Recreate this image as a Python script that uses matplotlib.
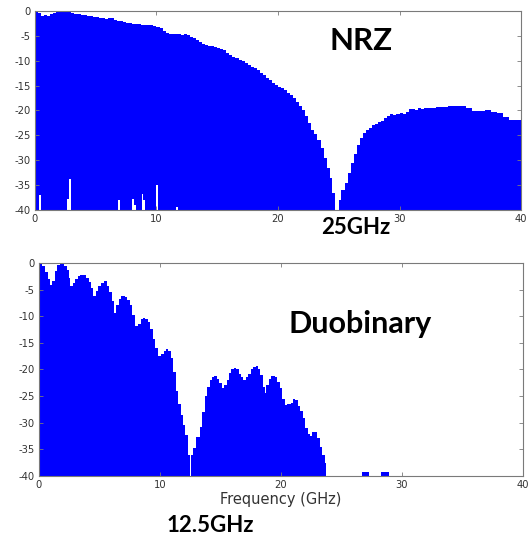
import matplotlib
matplotlib.use("Agg")
import matplotlib.pyplot as plt
import numpy as np

plt.rcParams['axes.unicode_minus'] = False

# ---------------- data ----------------
nrz_f = [0.0, 0.25, 0.5, 0.75, 1.0, 1.25, 1.5, 1.75, 2.0, 2.25, 2.5, 2.75, 3.0, 3.25, 3.5, 3.75,
         4.0, 4.25, 4.5, 4.75, 5.0, 5.25, 5.5, 5.75, 6.0, 6.25, 6.5, 6.75, 7.0, 7.25, 7.5, 7.75,
         8.0, 8.25, 8.5, 8.75, 9.0, 9.25, 9.5, 9.75, 10.0, 10.25, 10.5, 10.75, 11.0, 11.25, 11.5, 11.75,
         12.0, 12.25, 12.5, 12.75, 13.0, 13.25, 13.5, 13.75, 14.0, 14.25, 14.5, 14.75, 15.0, 15.25, 15.5, 15.75,
         16.0, 16.25, 16.5, 16.75, 17.0, 17.25, 17.5, 17.75, 18.0, 18.25, 18.5, 18.75, 19.0, 19.25, 19.5, 19.75,
         20.0, 20.25, 20.5, 20.75, 21.0, 21.25, 21.5, 21.75, 22.0, 22.25, 22.5, 22.75, 23.0, 23.25, 23.5, 23.75,
         24.0, 24.25, 24.45, 24.65, 25.0, 25.2, 25.5, 25.75, 26.0, 26.25, 26.5, 26.75, 27.0, 27.25, 27.5, 27.75,
         28.0, 28.25, 28.5, 28.75, 29.0, 29.25, 29.5, 29.75, 30.0, 30.25, 30.5, 30.75, 31.0, 31.25, 31.5, 31.75,
         32.0, 32.5, 33.0, 33.5, 34.0, 34.5, 35.0, 35.5, 36.0, 36.5, 37.0, 37.5, 38.0, 38.5, 39.0, 39.5, 40.0]
nrz_db = [-0.1, -0.5, -1.1, -0.8, -1.0, -0.6, -0.4, -0.2, 0.0, -0.1, 0.0, -0.1, -0.5, -0.7, -0.6, -0.8,
          -0.9, -1.0, -1.1, -1.3, -1.3, -1.5, -1.4, -1.6, -1.5, -1.4, -1.8, -2.0, -2.1, -2.3, -2.5, -2.4,
          -2.6, -2.7, -2.6, -2.8, -2.8, -2.9, -2.8, -3.0, -3.2, -3.5, -4.0, -4.4, -4.6, -4.7, -4.6, -4.7,
          -4.8, -4.6, -4.9, -5.2, -5.5, -5.9, -6.2, -6.6, -6.8, -7.0, -7.1, -7.3, -7.4, -7.6, -7.9, -8.4,
          -8.8, -9.2, -9.5, -9.9, -10.1, -10.5, -10.9, -11.3, -11.5, -11.8, -12.4, -12.9, -13.4, -13.8, -14.5, -14.9,
          -15.2, -15.4, -15.9, -16.4, -16.9, -17.5, -18.3, -19.0, -20.0, -21.2, -22.5, -24.0, -24.8, -26.0, -27.5, -29.5,
          -31.5, -33.5, -36.5, -40.0, -38.0, -36.0, -34.5, -32.5, -30.6, -28.8, -27.0, -25.6, -24.6, -24.0, -23.6, -23.0,
          -22.8, -22.4, -22.2, -21.6, -21.1, -20.8, -20.9, -20.7, -20.6, -20.7, -20.3, -19.8, -19.7, -20.0, -19.6, -19.7,
          -19.6, -19.5, -19.4, -19.3, -19.2, -19.1, -19.2, -19.6, -20.1, -20.2, -20.0, -20.4, -20.6, -21.3, -22.0, -21.9, -22.6]

# small white notches at the bottom of the NRZ spectrum
nrz_gap_f = [0.4, 2.75, 2.9, 6.9, 8.05, 8.25, 8.85, 9.0, 10.05, 11.7]
nrz_gap_top = [-36.9, -37.7, -33.7, -38.0, -37.7, -39.0, -36.7, -38.0, -35.0, -39.4]

duo_f = [0.0, 0.25, 0.5, 0.75, 0.9, 1.1, 1.3, 1.5, 1.7, 1.9, 2.1, 2.3, 2.45, 2.6, 2.8, 3.0,
         3.2, 3.4, 3.7, 3.9, 4.1, 4.3, 4.5, 4.7, 4.9, 5.1, 5.4, 5.6, 5.8, 6.0, 6.2, 6.4,
         6.6, 6.8, 7.1, 7.3, 7.5, 7.7, 7.95, 8.2, 8.4, 8.6, 8.8, 9.0, 9.2, 9.4, 9.6, 9.85,
         10.1, 10.3, 10.5, 10.7, 10.9, 11.1, 11.3, 11.5, 11.75, 11.9, 12.1, 12.3, 12.45, 12.55, 12.7, 13.0,
         13.3, 13.5, 13.7, 13.9, 14.1, 14.3, 14.5, 14.7, 14.9, 15.1, 15.3, 15.5, 15.7, 15.9, 16.1, 16.3,
         16.5, 16.7, 16.9, 17.1, 17.3, 17.5, 17.7, 17.9, 18.1, 18.3, 18.5, 18.65, 18.8, 19.0, 19.2, 19.5,
         19.7, 19.9, 20.1, 20.3, 20.5, 20.8, 21.0, 21.2, 21.4, 21.6, 21.8, 22.0, 22.2, 22.4, 22.6, 22.8,
         23.0, 23.2, 23.4, 23.6, 23.7, 26.7, 27.3, 28.3, 28.9, 40.0]
duo_db = [0.0, -0.5, -1.6, -3.0, -4.1, -3.4, -1.5, -0.4, -0.1, -0.2, -0.5, -1.3, -2.8, -4.4, -3.8, -3.0,
          -2.4, -2.2, -2.2, -2.8, -3.6, -4.7, -6.2, -5.3, -4.4, -3.8, -3.4, -4.3, -5.5, -7.2, -9.3, -7.8,
          -6.8, -6.2, -6.3, -7.0, -7.9, -9.7, -11.9, -11.5, -10.6, -10.3, -10.6, -11.1, -12.4, -14.2, -15.9, -17.5,
          -17.0, -16.6, -16.2, -16.6, -17.8, -20.4, -24.0, -26.5, -28.5, -30.5, -32.3, -36.0, -40.0, -36.0, -34.8, -32.6,
          -30.8, -27.9, -25.0, -23.2, -22.0, -21.5, -21.2, -21.7, -22.6, -23.4, -23.0, -22.0, -20.6, -20.0, -19.7, -20.0,
          -20.8, -21.5, -21.9, -21.4, -20.8, -20.0, -19.5, -19.3, -19.9, -21.0, -23.2, -24.5, -23.0, -21.8, -21.3, -21.5,
          -22.3, -23.5, -25.5, -26.6, -26.5, -26.2, -25.5, -25.8, -26.8, -27.8, -29.2, -31.0, -32.2, -32.4, -31.8, -31.7,
          -32.8, -34.5, -36.0, -37.5, -40.0, -39.2, -40.0, -39.2, -40.0, -40.0]

x_ticks = [0, 10, 20, 30, 40]
y_ticks = [0, -5, -10, -15, -20, -25, -30, -35, -40]
y_ticklabels = ['0', '-5', '-10', '-15', '-20', '-25', '-30', '-35', '-40']

BLUE = '#0000ff'
FRAME = '#7a7a7a'
TICKC = '#333333'

fig = plt.figure(figsize=(5.31, 5.35), dpi=100)
ax1 = fig.add_axes([0.0659, 0.6075, 0.9153, 0.3720])
ax2 = fig.add_axes([0.0734, 0.1103, 0.9115, 0.3981])


def style(ax):
    ax.set_xlim(0, 40)
    ax.set_ylim(-40, 0)
    ax.set_xticks(x_ticks)
    ax.set_yticks(y_ticks)
    ax.set_yticklabels(y_ticklabels)
    ax.tick_params(direction='in', length=3, width=0.6, color=FRAME,
                   top=True, right=True, labelsize=7.2, labelcolor=TICKC, pad=3)
    for s in ax.spines.values():
        s.set_color(FRAME)
        s.set_linewidth(0.8)


ax1.fill_between(nrz_f, nrz_db, -40, step='post', color=BLUE, lw=0)
ax1.bar(nrz_gap_f, np.array(nrz_gap_top) + 40, bottom=-40, width=0.15, color='white', lw=0)
style(ax1)

ax2.fill_between(duo_f, duo_db, -40, step='post', color=BLUE, lw=0)
style(ax2)
ax2.set_xlabel('Frequency (GHz)', fontsize=10.5, color=TICKC, labelpad=1)

bold = dict(family=['Lato', 'DejaVu Sans'], fontweight='bold', color='black')
fig.text(361 / 531, 1 - 50 / 535, 'NRZ', ha='center', va='baseline', fontsize=22.5, **bold)
fig.text(356 / 531, 1 - 234 / 535, '25GHz', ha='center', va='baseline', fontsize=16, **bold)
fig.text(360 / 531, 1 - 333 / 535, 'Duobinary', ha='center', va='baseline', fontsize=22, **bold)
fig.text(210 / 531, 1 - 531.5 / 535, '12.5GHz', ha='center', va='baseline', fontsize=16, **bold)

fig.savefig('out.png', dpi=100)
